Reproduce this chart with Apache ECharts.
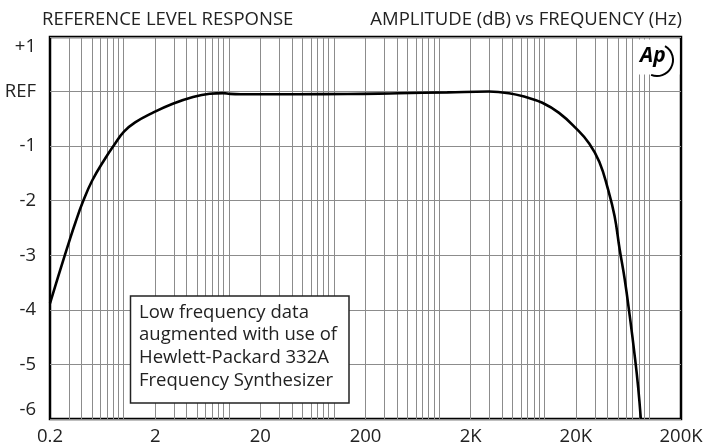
<!DOCTYPE html>
<html>
<head>
<meta charset="utf-8">
<script src="https://cdn.jsdelivr.net/npm/echarts@6/dist/echarts.min.js"></script>
<style>
html,body{margin:0;padding:0;background:#fff;}
#chart{width:707px;height:447px;}
</style>
</head>
<body>
<div id="chart"></div>
<script>
// Frequency (Hz) and amplitude (dB re REF)
var freqHz = [0.2, 0.252, 0.31, 0.349, 0.409, 0.504, 0.667, 0.82, 1.01, 1.29, 1.89, 2.94, 4.58, 6.6, 8.9, 10.3, 13, 44.9, 135, 408, 1200, 2972, 4614, 6660, 9600, 13840, 20000, 26800, 33500, 40300, 46700, 52200, 58300, 65200, 72800, 78300, 83000];
var levelDb = [-3.88, -3.25, -2.70, -2.40, -2.03, -1.63, -1.23, -0.97, -0.733, -0.565, -0.39, -0.224, -0.10, -0.04, -0.028, -0.042, -0.048, -0.048, -0.045, -0.03, -0.015, 0.0, -0.03, -0.10, -0.205, -0.39, -0.67, -0.95, -1.29, -1.78, -2.28, -2.89, -3.44, -4.12, -4.86, -5.42, -6.0];

var xTickLabels = ['0.2', '2', '20', '200', '2K', '20K', '200K'];
var yTickLabels = {'1': '+1', '0': 'REF', '-1': '-1', '-2': '-2', '-3': '-3', '-4': '-4', '-5': '-5', '-6': '-6'};
var fMin = 0.2;

var titleLeft = 'REFERENCE LEVEL RESPONSE';
var titleRight = 'AMPLITUDE (dB) vs FREQUENCY (Hz)';
var noteLines = ['Low frequency data', 'augmented with use of', 'Hewlett-Packard 332A', 'Frequency Synthesizer'];

function toAxis(f) { return Math.log10(f / fMin); }

// log-grid frequencies n*10^m inside the plot
var gridFreqs = [];
for (var m = -1; m <= 5; m++) {
  for (var n = 1; n <= 9; n++) {
    var f = n * Math.pow(10, m);
    if (f > fMin * 1.0001 && f < 200000 * 0.9999) gridFreqs.push(f);
  }
}

var curve = freqHz.map(function (f, i) { return [toAxis(f), levelDb[i]]; });

var FONT = '"Open Sans", "Noto Sans", sans-serif';
var FS = 18.5;
var chart = echarts.init(document.getElementById('chart'), null, {renderer: 'canvas'});
chart.setOption({
  animation: false,
  backgroundColor: '#fff',
  grid: {left: 50, right: 26, top: 37, bottom: 28, show: true, borderColor: '#000', borderWidth: 2.5, containLabel: false},
  title: [
    {text: titleLeft, left: 37, top: 5, textStyle: {fontFamily: FONT, fontSize: FS, fontWeight: 'normal', color: '#222'}},
    {text: titleRight, right: 20, top: 5, textStyle: {fontFamily: FONT, fontSize: FS, fontWeight: 'normal', color: '#222'}}
  ],
  xAxis: {
    type: 'value', min: 0, max: 6, interval: 1,
    axisLine: {show: false}, axisTick: {show: false}, splitLine: {show: false},
    axisLabel: {
      margin: 8, fontFamily: FONT, fontSize: FS, color: '#222',
      formatter: function (v) { return xTickLabels[Math.round(v)]; }
    }
  },
  yAxis: {
    type: 'value', min: -6, max: 1, interval: 1,
    axisLine: {show: false}, axisTick: {show: false},
    splitLine: {show: true, lineStyle: {color: '#8c8c8c', width: 1}},
    axisLabel: {
      margin: 14, fontFamily: FONT, fontSize: FS, color: '#222',
      verticalAlignMaxLabel: 'top', verticalAlignMinLabel: 'bottom',
      formatter: function (v) { return yTickLabels[String(Math.round(v))]; }
    }
  },
  series: [
    {
      type: 'line', data: curve, z: 1, symbol: 'none', silent: true,
      lineStyle: {opacity: 0},
      markLine: {
        silent: true, symbol: ['none', 'none'], animation: false,
        label: {show: false},
        lineStyle: {color: '#8c8c8c', width: 1, type: 'solid'},
        data: gridFreqs.map(function (f) { return {xAxis: toAxis(f)}; })
      }
    },
    {
      type: 'line', data: curve, z: 5, symbol: 'none', smooth: 0.45, silent: true,
      lineStyle: {color: '#000', width: 2.6}
    }
  ],
  graphic: [
    {type: 'rect', z: 100, shape: {x: 634, y: 39.5, width: 45.5, height: 35}, style: {fill: '#fff'}},
    {type: 'text', z: 101, x: 640, y: 56, style: {text: 'Ap', font: 'italic bold 21px ' + FONT, fill: '#000', verticalAlign: 'middle', align: 'left'}},
    {type: 'arc', z: 101, shape: {cx: 657, cy: 60, r: 16, startAngle: -Math.PI / 3, endAngle: Math.PI * 0.62}, style: {stroke: '#000', lineWidth: 2, fill: null}},
    {type: 'rect', z: 100, shape: {x: 130.5, y: 296, width: 218.5, height: 107}, style: {fill: '#fff', stroke: '#222', lineWidth: 1.5}},
    {type: 'text', z: 101, x: 139, y: 301, style: {text: noteLines.join('\n'), font: FS + 'px ' + FONT, lineHeight: 22.7, fill: '#222'}}
  ]
});
</script>
</body>
</html>
